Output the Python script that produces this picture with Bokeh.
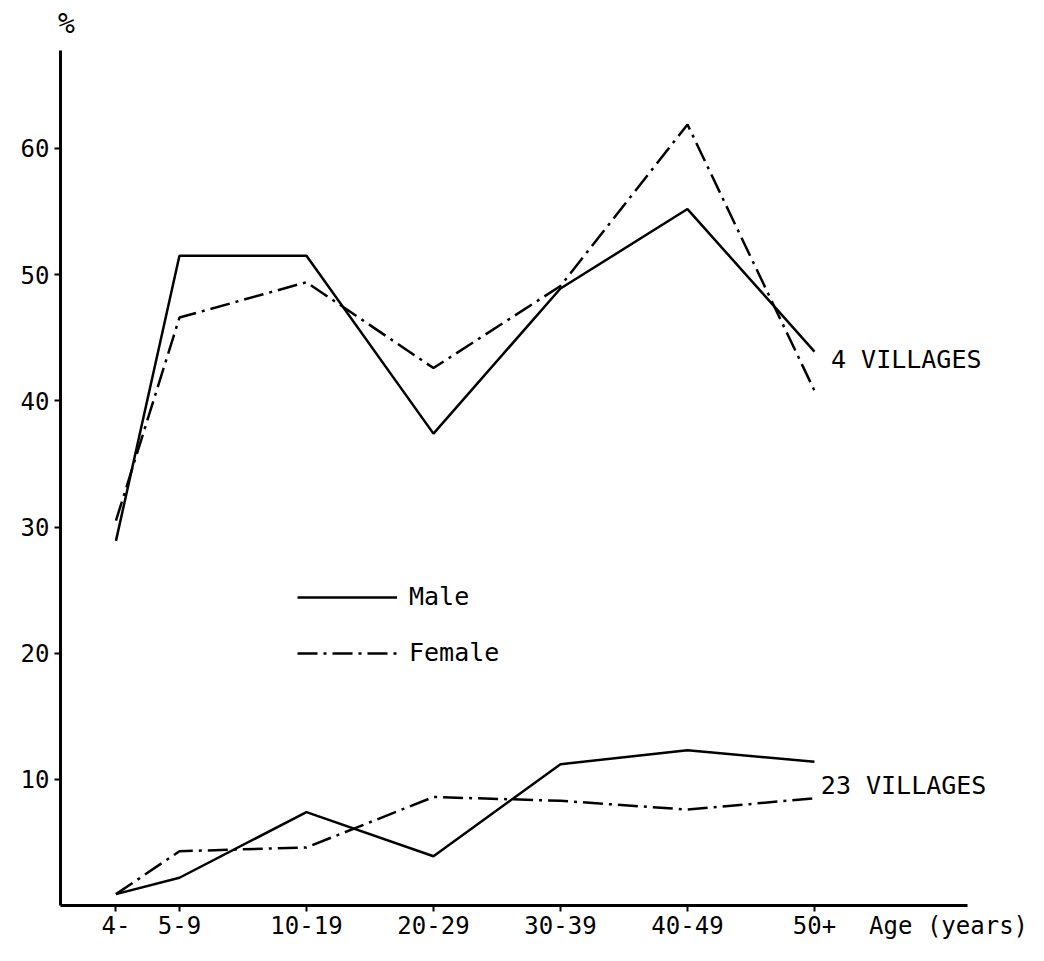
from bokeh.plotting import figure
from bokeh.models import Range1d, FixedTicker, Label, Legend, LegendItem
from bokeh.embed import file_html
from bokeh.resources import INLINE

# ---- data ----
age_groups = ["4-", "5-9", "10-19", "20-29", "30-39", "40-49", "50+"]
age_pos = [0.5, 1, 2, 3, 4, 5, 6]
male_4v = [28.9, 51.5, 51.5, 37.4, 48.9, 55.2, 43.9]
female_4v = [30.5, 46.6, 49.4, 42.6, 49.1, 61.9, 40.8]
male_23v = [0.9, 2.2, 7.4, 3.9, 11.2, 12.3, 11.4]
female_23v = [0.9, 4.3, 4.6, 8.6, 8.3, 7.6, 8.5]
y_ticks = [10, 20, 30, 40, 50, 60]

FONT = "DejaVu Sans Mono"
FS = "24px"
DASHDOT = "20 6 3 6"

X0, X1 = 0.063, 7.205   # extent of the drawn x axis
Y0, Y1 = 0.0, 67.77     # extent of the drawn y axis

p = figure(width=1028, height=945, output_backend="svg", toolbar_location=None,
           x_range=Range1d(-0.409, 7.685), y_range=Range1d(-3.17, 71.73),
           min_border_left=0, min_border_right=0, min_border_top=0, min_border_bottom=0)
p.outline_line_color = None
p.background_fill_color = "white"
p.border_fill_color = "white"
p.xgrid.visible = False
p.ygrid.visible = False

# axes (placed at fixed data positions so that outer texts stay visible)
p.xaxis.ticker = FixedTicker(ticks=age_pos)
p.xaxis.major_label_overrides = {pos: lab for pos, lab in zip(age_pos, age_groups)}
p.xaxis.fixed_location = Y0
p.xaxis.bounds = (X0, X1)
p.yaxis.ticker = FixedTicker(ticks=y_ticks)
p.yaxis.fixed_location = X0
p.yaxis.bounds = (Y0, Y1)
for ax in (p.xaxis, p.yaxis):
    ax.axis_line_width = 3
    ax.axis_line_color = "black"
    ax.major_tick_line_width = 2
    ax.major_tick_line_color = "black"
    ax.major_tick_in = 0
    ax.major_tick_out = 6
    ax.minor_tick_line_color = None
    ax.major_label_text_font = FONT
    ax.major_label_text_font_size = FS
    ax.major_label_text_color = "black"
p.xaxis.major_label_standoff = 4
p.yaxis.major_label_standoff = 5
p.yaxis.major_label_orientation = "horizontal"

# data lines
r_m4 = p.line(age_pos, male_4v, line_color="black", line_width=2.5)
r_f4 = p.line(age_pos, female_4v, line_color="black", line_width=2.5, line_dash=DASHDOT)
r_m23 = p.line(age_pos, male_23v, line_color="black", line_width=2.5)
r_f23 = p.line(age_pos, female_23v, line_color="black", line_width=2.5, line_dash=DASHDOT)

legend = Legend(items=[LegendItem(label="Male", renderers=[r_m4]),
                       LegendItem(label="Female", renderers=[r_f4])],
                location=(297, 278), orientation="vertical",
                glyph_width=100, glyph_height=24, label_height=24, spacing=27,
                label_standoff=12, padding=0, margin=0,
                border_line_color=None, background_fill_alpha=0,
                label_text_font=FONT, label_text_font_size="25px",
                label_text_color="black")
p.add_layout(legend, "center")

text_kw = dict(text_font=FONT, text_font_size="25px", text_color="black")
p.add_layout(Label(x=6.13, y=43.3, text="4 VILLAGES", text_align="left",
                   text_baseline="middle", **text_kw))
p.add_layout(Label(x=6.05, y=9.5, text="23 VILLAGES", text_align="left",
                   text_baseline="middle", **text_kw))
p.add_layout(Label(x=0.11, y=69.9, text="%", text_align="center",
                   text_baseline="middle", text_font=FONT, text_font_size="28px",
                   text_color="black"))
p.add_layout(Label(x=6.43, y=-1.65, text="Age (years)", text_align="left",
                   text_baseline="middle", text_font=FONT, text_font_size=FS,
                   text_color="black"))

open("out.html", "w").write(file_html(p, INLINE))
